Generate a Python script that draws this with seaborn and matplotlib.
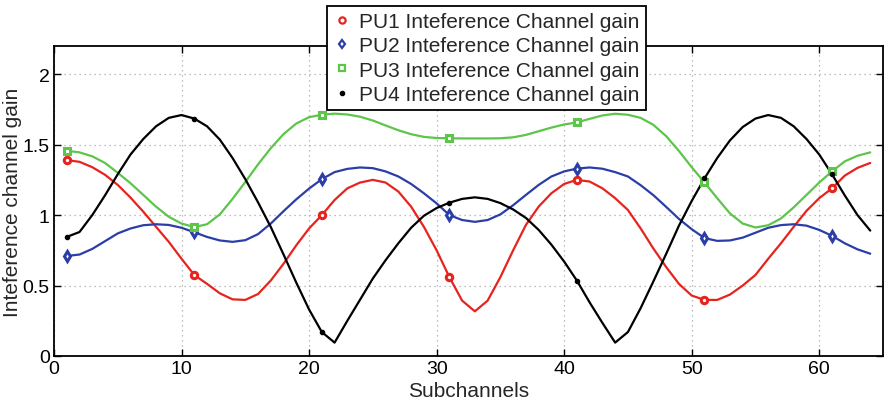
import numpy as np
import pandas as pd
import matplotlib
matplotlib.use("Agg")
import matplotlib.pyplot as plt
from matplotlib.lines import Line2D
import seaborn as sns

# Subchannel index and interference channel gain of each primary user
subchannels = list(range(1, 65))

pu1_gain = [1.39, 1.378, 1.34, 1.286, 1.214, 1.124, 1.024, 0.917, 0.81, 0.69,
            0.575, 0.512, 0.445, 0.402, 0.398, 0.44, 0.536, 0.655, 0.786, 0.905,
            1.0, 1.107, 1.19, 1.231, 1.25, 1.231, 1.167, 1.06, 0.917, 0.75,
            0.56, 0.393, 0.317, 0.393, 0.56, 0.75, 0.93, 1.06, 1.155, 1.221,
            1.25, 1.238, 1.19, 1.12, 1.036, 0.905, 0.762, 0.631, 0.512, 0.429,
            0.398, 0.398, 0.436, 0.50, 0.575, 0.69, 0.80, 0.917, 1.03, 1.12,
            1.19, 1.28, 1.335, 1.37]

pu2_gain = [0.71, 0.72, 0.76, 0.815, 0.87, 0.905, 0.928, 0.935, 0.93, 0.91,
            0.878, 0.845, 0.82, 0.81, 0.822, 0.865, 0.94, 1.028, 1.112, 1.188,
            1.255, 1.305, 1.328, 1.338, 1.333, 1.31, 1.274, 1.221, 1.155, 1.083,
            1.0, 0.965, 0.952, 0.965, 1.005, 1.07, 1.143, 1.214, 1.274, 1.31,
            1.33, 1.338, 1.329, 1.305, 1.274, 1.212, 1.141, 1.058, 0.973, 0.9,
            0.837, 0.817, 0.82, 0.84, 0.875, 0.91, 0.929, 0.935, 0.925, 0.895,
            0.853, 0.80, 0.757, 0.726]

pu3_gain = [1.457, 1.445, 1.417, 1.37, 1.30, 1.226, 1.143, 1.06, 0.988, 0.94,
            0.915, 0.935, 1.005, 1.115, 1.235, 1.36, 1.475, 1.575, 1.65, 1.695,
            1.712, 1.72, 1.714, 1.698, 1.671, 1.636, 1.602, 1.574, 1.555, 1.547,
            1.545, 1.544, 1.544, 1.544, 1.545, 1.552, 1.569, 1.595, 1.621, 1.643,
            1.658, 1.683, 1.707, 1.719, 1.712, 1.69, 1.64, 1.56, 1.455, 1.34,
            1.232, 1.12, 1.012, 0.94, 0.912, 0.928, 0.976, 1.055, 1.143, 1.231,
            1.31, 1.381, 1.421, 1.445]

pu4_gain = [0.845, 0.88, 1.0, 1.14, 1.29, 1.43, 1.54, 1.63, 1.69, 1.71,
            1.685, 1.63, 1.536, 1.405, 1.255, 1.09, 0.915, 0.72, 0.52, 0.33,
            0.17, 0.095, 0.25, 0.40, 0.55, 0.68, 0.80, 0.91, 0.995, 1.05,
            1.088, 1.115, 1.126, 1.115, 1.085, 1.04, 0.98, 0.895, 0.79, 0.67,
            0.535, 0.38, 0.235, 0.095, 0.17, 0.34, 0.53, 0.725, 0.925, 1.10,
            1.26, 1.405, 1.53, 1.625, 1.685, 1.71, 1.69, 1.63, 1.54, 1.43,
            1.29, 1.14, 1.0, 0.89]

labels = ["PU1 Inteference Channel gain", "PU2 Inteference Channel gain",
          "PU3 Inteference Channel gain", "PU4 Inteference Channel gain"]
colors = ["#e6241d", "#2b3ea8", "#5cc54a", "#000000"]
markers = ["o", "d", "s", "."]
marker_step = 10

sns.set_style("ticks")
plt.rcParams["font.family"] = ["Liberation Sans", "DejaVu Sans"]

df = pd.DataFrame({
    "Subchannel": subchannels * 4,
    "Gain": pu1_gain + pu2_gain + pu3_gain + pu4_gain,
    "User": sum([[lab] * len(subchannels) for lab in labels], []),
})

fig = plt.figure(figsize=(8.85, 4.10), dpi=100)
ax = fig.add_axes([54 / 885, 1 - 357 / 410, (883 - 54) / 885, (357 - 47) / 410])

sns.lineplot(data=df, x="Subchannel", y="Gain", hue="User", hue_order=labels,
             palette=colors, linewidth=1.6, legend=False, ax=ax, zorder=3)

# markers on every tenth subchannel
for lab, col, mk in zip(labels, colors, markers):
    sub = df[df["User"] == lab].iloc[::marker_step]
    if mk == ".":
        ax.plot(sub["Subchannel"], sub["Gain"], linestyle="none", marker=mk,
                color=col, markersize=6, zorder=4)
    else:
        ax.plot(sub["Subchannel"], sub["Gain"], linestyle="none", marker=mk,
                markeredgecolor=col, markerfacecolor="white",
                markeredgewidth=2.2, markersize=4.6, zorder=4)

ax.set_xlim(0, 65)
ax.set_ylim(0, 2.2)
ax.set_xticks(range(0, 61, 10))
ax.set_yticks([0, 0.5, 1, 1.5, 2])
ax.set_yticklabels(["0", "0.5", "1", "1.5", "2"])
ax.grid(True, color="#a8a8a8", linestyle=(0, (1, 3)), linewidth=0.9)
ax.set_axisbelow(True)
ax.tick_params(direction="in", length=5, width=1, top=True, right=True,
               labelsize=14, pad=3, colors="black")
for sp in ax.spines.values():
    sp.set_visible(True)
    sp.set_linewidth(1.3)
    sp.set_color("black")

ax.set_xlabel("Subchannels", fontsize=15, labelpad=3)
ax.set_ylabel("Inteference channel gain", fontsize=15)
ax.yaxis.set_label_coords(-0.038, 0.5)

handles = []
for lab, col, mk in zip(labels, colors, markers):
    if mk == ".":
        h = Line2D([], [], linestyle="none", marker=mk, color=col, markersize=6)
    else:
        h = Line2D([], [], linestyle="none", marker=mk, markeredgecolor=col,
                   markerfacecolor="white", markeredgewidth=1.6, markersize=4.5)
    handles.append(h)

leg = ax.legend(handles, labels, loc="upper left",
                bbox_to_anchor=(327 / 885, 1 - 7 / 410),
                bbox_transform=fig.transFigure, borderaxespad=0,
                fontsize=15, frameon=True, fancybox=False, framealpha=1,
                edgecolor="black", handlelength=0.8, handletextpad=0.45,
                labelspacing=0.25, borderpad=0.3)
leg.get_frame().set_linewidth(1.3)
leg.set_zorder(10)

fig.savefig("out.png", dpi=100)
